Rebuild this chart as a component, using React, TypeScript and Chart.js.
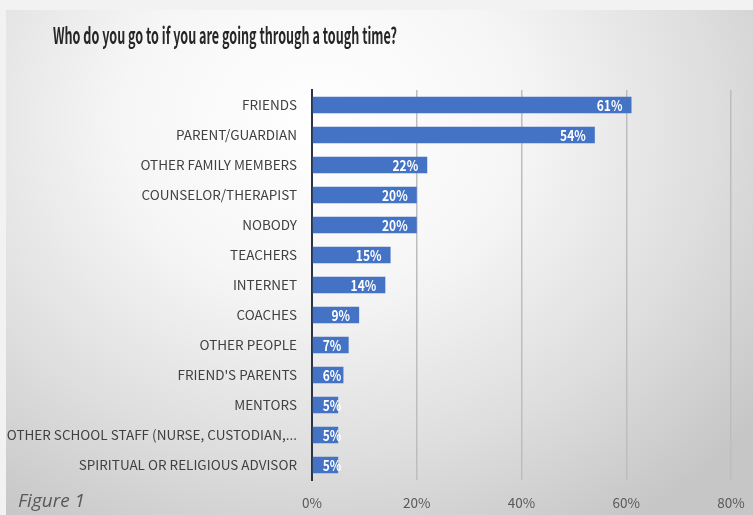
import React, { useEffect, useRef } from "react";
import { Chart, registerables } from "chart.js";

Chart.register(...registerables);

const categories = [
  "FRIENDS",
  "PARENT/GUARDIAN",
  "OTHER FAMILY MEMBERS",
  "COUNSELOR/THERAPIST",
  "NOBODY",
  "TEACHERS",
  "INTERNET",
  "COACHES",
  "OTHER PEOPLE",
  "FRIEND'S PARENTS",
  "MENTORS",
  "OTHER SCHOOL STAFF (NURSE, CUSTODIAN,...",
  "SPIRITUAL OR RELIGIOUS ADVISOR",
];
const percentages = [61, 54, 22, 20, 20, 15, 14, 9, 7, 6, 5, 5, 5];
const axisTicks = [0, 20, 40, 60, 80];
const titleText = "Who do you go to if you are going through a tough time?";
const captionText = "Figure 1";

const FONT = "'Noto Sans CJK SC', Lato, sans-serif";

const decorPlugin = {
  id: "decor",
  afterDraw(chart: any) {
    const ctx = chart.ctx;
    ctx.save();
    ctx.fillStyle = "#262626";
    ctx.font = `bold 22px ${FONT}`;
    ctx.textAlign = "left";
    ctx.textBaseline = "alphabetic";
    const tw = ctx.measureText(titleText).width;
    const sx = Math.min(1, 344 / tw);
    ctx.translate(53, 44);
    ctx.scale(sx, 1);
    ctx.fillText(titleText, 0, 0);
    ctx.restore();

    ctx.save();
    ctx.fillStyle = "#595959";
    ctx.font = "italic 19px 'Open Sans', sans-serif";
    ctx.textAlign = "left";
    ctx.textBaseline = "alphabetic";
    ctx.fillText(captionText, 18, 507);
    ctx.restore();
  },
};

const barLabelPlugin = {
  id: "barLabels",
  afterDatasetsDraw(chart: any) {
    const ctx = chart.ctx;
    const meta = chart.getDatasetMeta(0);
    const sx = 0.8;
    ctx.save();
    ctx.fillStyle = "#ffffff";
    ctx.font = `bold 15px ${FONT}`;
    ctx.textAlign = "left";
    ctx.textBaseline = "alphabetic";
    meta.data.forEach((el: any, i: number) => {
      const txt = percentages[i] + "%";
      const w = ctx.measureText(txt).width * sx;
      const x = Math.max(el.x - 9 - w, el.base + 10);
      ctx.save();
      ctx.translate(x, el.y + 6);
      ctx.scale(sx, 1);
      ctx.fillText(txt, 0, 0);
      ctx.restore();
    });
    ctx.restore();
  },
};

export default function App() {
  const ref = useRef<HTMLCanvasElement | null>(null);
  useEffect(() => {
    if (!ref.current) return;
    const chart = new Chart(ref.current, {
      type: "bar",
      data: {
        labels: categories,
        datasets: [
          {
            data: percentages,
            backgroundColor: "#4472C4",
            borderWidth: 0,
            barPercentage: 0.55,
            categoryPercentage: 1,
          },
        ],
      },
      options: {
        indexAxis: "y",
        responsive: false,
        animation: false,
        layout: { padding: { top: 90, right: 22, bottom: 0, left: 0 } },
        plugins: {
          legend: { display: false },
          tooltip: { enabled: false },
          title: { display: false },
        },
        scales: {
          x: {
            min: axisTicks[0],
            max: axisTicks[axisTicks.length - 1],
            afterBuildTicks: (s: any) => {
              s.ticks = axisTicks.map((v) => ({ value: v }));
            },
            ticks: {
              callback: (v: any) => v + "%",
              color: "#595959",
              font: { family: FONT, size: 13.5 },
              padding: 15,
            },
            grid: {
              color: (c: any) => (c.tick && c.tick.value === 0 ? "rgba(0,0,0,0)" : "#bdbdbd"),
              lineWidth: 1.5,
              drawTicks: false,
            },
            border: { display: false },
            afterFit: (s: any) => {
              s.height = 35;
              s.paddingLeft = 0;
              s.paddingRight = 0;
            },
          },
          y: {
            ticks: {
              color: "#404040",
              font: { family: FONT, size: 13.5 },
              padding: 15,
              autoSkip: false,
            },
            grid: { display: false, drawTicks: false },
            border: { display: true, color: "#2b3445", width: 2 },
            afterFit: (s: any) => {
              s.width = 312;
            },
          },
        },
      },
      plugins: [decorPlugin, barLabelPlugin],
    } as any);
    return () => chart.destroy();
  }, []);

  return (
    <div
      style={{
        position: "fixed",
        left: 0,
        top: 0,
        width: 753,
        height: 515,
        background: "#f2f2f2",
        overflow: "hidden",
      }}
    >
      <div
        style={{
          position: "absolute",
          left: 6,
          top: 10,
          width: 747,
          height: 505,
          background:
            "radial-gradient(ellipse 75% 95% at 42% 22%, #ffffff 0%, #f6f6f6 35%, #dedede 70%, #c6c6c6 100%)",
        }}
      />
      <canvas
        ref={ref}
        width={753}
        height={515}
        style={{ position: "absolute", left: 0, top: 0, width: 753, height: 515 }}
      />
    </div>
  );
}
